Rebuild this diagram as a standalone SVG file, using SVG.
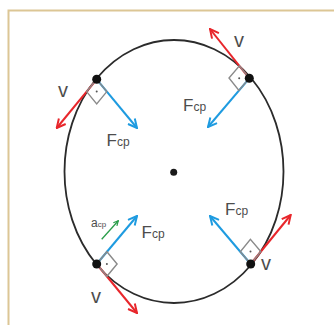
<svg xmlns="http://www.w3.org/2000/svg" width="334" height="325" viewBox="0 0 334 325">
<style>
.lbl{font-family:"Liberation Sans",Arial,sans-serif;fill:#4d4d4d}
.v{font-size:20px}
.F{font-size:17px}
.sub{font-size:12px}
.red{stroke:#e8262b;stroke-width:2;fill:none}
.blue{stroke:#1e9be0;stroke-width:2;fill:none}
.green{stroke:#2a9d4a;stroke-width:1.3;fill:none}
.sq{stroke:#8a8a8a;stroke-width:1.4;fill:none}
</style>
<defs>
<marker id="ar" viewBox="0 0 10 10" refX="9" refY="5" markerWidth="11" markerHeight="11" markerUnits="userSpaceOnUse" orient="auto"><path d="M1,1 L9,5 L1,9" fill="none" stroke="#e8262b" stroke-width="1.8"/></marker>
<marker id="ab" viewBox="0 0 10 10" refX="9" refY="5" markerWidth="11" markerHeight="11" markerUnits="userSpaceOnUse" orient="auto"><path d="M1,1 L9,5 L1,9" fill="none" stroke="#1e9be0" stroke-width="1.8"/></marker>
<marker id="ag" viewBox="0 0 10 10" refX="9" refY="5" markerWidth="6" markerHeight="6" markerUnits="userSpaceOnUse" orient="auto"><path d="M1,1 L9,5 L1,9" fill="none" stroke="#2a9d4a" stroke-width="2"/></marker>
</defs>
<rect width="334" height="325" fill="#ffffff"/>
<path d="M8.5,325 V10.5 H334" fill="none" stroke="#dcc695" stroke-width="2"/>
<g id="orbit">
<ellipse cx="174" cy="171.5" rx="109.5" ry="131.5" fill="none" stroke="#2b2b2b" stroke-width="1.8"/>
<circle cx="173.7" cy="172.3" r="3.5" fill="#1a1a1a"/>
</g>
<g id="connectors">
<line class="red" x1="96.7" y1="79.3" x2="56.7" y2="128" marker-end="url(#ar)"/>
<line class="blue" x1="96.7" y1="79.3" x2="137" y2="128" marker-end="url(#ab)"/>
<line class="red" x1="249.3" y1="78.3" x2="210" y2="29" marker-end="url(#ar)"/>
<line class="blue" x1="249.3" y1="78.3" x2="208" y2="127" marker-end="url(#ab)"/>
<line class="red" x1="96.7" y1="264" x2="137" y2="313" marker-end="url(#ar)"/>
<line class="blue" x1="96.7" y1="264" x2="137" y2="216" marker-end="url(#ab)"/>
<line class="red" x1="250.7" y1="264" x2="290.7" y2="215" marker-end="url(#ar)"/>
<line class="blue" x1="250.7" y1="264" x2="210" y2="216" marker-end="url(#ab)"/>
<line class="green" x1="101.7" y1="239.3" x2="118.3" y2="220.7" marker-end="url(#ag)"/>
</g>
<g id="p-tl">
<path class="sq" d="M96.7,79.3 L86.6,91.6 L96.7,103.9 L106.8,91.6 Z"/>
<circle cx="96.7" cy="91.6" r="1" fill="#555"/>
<circle cx="96.7" cy="79.3" r="4.5" fill="#111"/>
<text class="lbl v" x="58" y="97">v</text>
<text class="lbl F" x="106.5" y="146">F<tspan class="sub">cp</tspan></text>
</g>
<g id="p-tr">
<path class="sq" d="M249.3,78.3 L239.4,65.8 L229.0,78.0 L238.9,90.5 Z"/>
<circle cx="239.2" cy="78.2" r="1" fill="#555"/>
<circle cx="249.3" cy="78.3" r="4.5" fill="#111"/>
<text class="lbl v" x="234" y="47">v</text>
<text class="lbl F" x="183" y="111">F<tspan class="sub">cp</tspan></text>
</g>
<g id="p-bl">
<path class="sq" d="M96.7,264 L106.9,251.7 L117.1,264.0 L106.9,276.3 Z"/>
<circle cx="106.9" cy="264" r="1" fill="#555"/>
<circle cx="96.7" cy="264" r="4.5" fill="#111"/>
<text class="lbl v" x="91" y="303">v</text>
<text class="lbl F" x="141.5" y="238">F<tspan class="sub">cp</tspan></text>
<text class="lbl" x="91" y="227" font-size="12">a<tspan font-size="8">cp</tspan></text>
</g>
<g id="p-br">
<path class="sq" d="M250.7,264 L240.3,251.8 L250.4,239.3 L260.8,251.5 Z"/>
<circle cx="250.5" cy="251.6" r="1" fill="#555"/>
<circle cx="250.7" cy="264" r="4.5" fill="#111"/>
<text class="lbl v" x="261" y="270">v</text>
<text class="lbl F" x="225" y="215">F<tspan class="sub">cp</tspan></text>
</g>
</svg>
